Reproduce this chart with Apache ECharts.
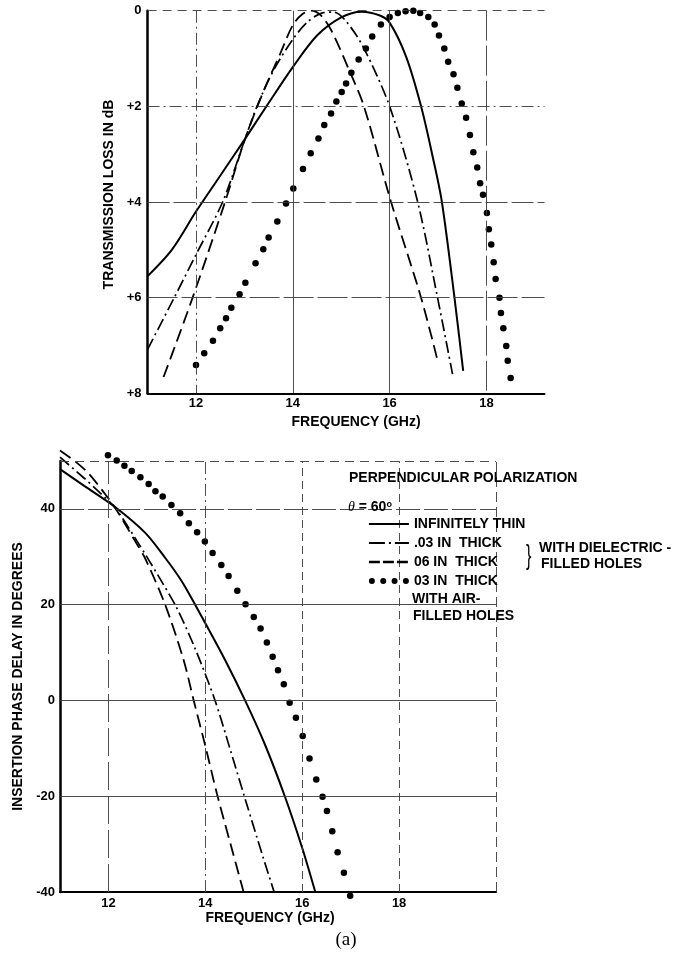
<!DOCTYPE html>
<html><head><meta charset="utf-8">
<script src="https://cdn.jsdelivr.net/npm/echarts@6/dist/echarts.min.js"></script>
<style>html,body{margin:0;padding:0;background:#fff}#chart{width:692px;height:959px}</style>
</head><body><div id="chart"></div>
<script>
// ---------- tick values ----------
const freqTicks = [12, 14, 16, 18];
const freqTicksBottom = [12, 14, 16, 18, 20];
const lossTicks = [0, 2, 4, 6, 8];
const phaseTicks = [-40, -20, 0, 20, 40];

// ---------- top chart: transmission loss (dB) vs frequency (GHz) ----------
const lossThin = [[11.0,5.55],[11.5,5.0],[12.0,4.2],[12.5,3.45],[13.0,2.7],[13.5,1.93],[14.0,1.18],[14.5,0.52],[15.0,0.14],[15.42,0.02],[15.8,0.1],[16.0,0.25],[16.34,0.96],[16.65,2.0],[16.9,3.1],[17.08,4.0],[17.34,6.0],[17.52,7.53]];
const lossDiel03 = [[11.0,7.08],[11.55,6.0],[12.0,5.1],[12.55,4.0],[13.0,2.72],[13.26,2.0],[13.6,1.25],[14.0,0.6],[14.3,0.24],[14.6,0.05],[14.85,0.03],[15.1,0.22],[15.45,0.75],[16.0,2.0],[16.58,4.0],[16.99,6.0],[17.3,7.6]];
const lossDiel06 = [[11.33,7.66],[11.93,6.0],[12.6,4.0],[13.0,2.72],[13.4,1.67],[13.74,0.9],[14.0,0.3],[14.2,0.07],[14.38,0.0],[14.58,0.1],[14.8,0.42],[15.18,1.28],[15.47,2.0],[16.03,4.0],[16.65,6.0],[17.0,7.35]];
const lossAir03 = [[12.0,7.41],[12.17,7.16],[12.35,6.9],[12.5,6.64],[12.62,6.43],[12.73,6.21],[12.9,5.93],[13.02,5.69],[13.23,5.28],[13.39,4.99],[13.5,4.74],[13.68,4.41],[13.86,4.03],[14.01,3.72],[14.21,3.31],[14.37,2.98],[14.53,2.67],[14.65,2.39],[14.79,2.15],[14.9,1.9],[15.01,1.7],[15.1,1.52],[15.21,1.3],[15.36,1.02],[15.51,0.79],[15.64,0.54],[15.82,0.29],[16.0,0.13],[16.17,0.05],[16.33,0.01],[16.49,0.0],[16.63,0.05],[16.8,0.13],[16.93,0.29],[17.02,0.52],[17.13,0.79],[17.21,1.07],[17.32,1.33],[17.4,1.61],[17.49,1.94],[17.58,2.24],[17.66,2.6],[17.73,2.96],[17.81,3.28],[17.87,3.61],[17.93,3.85],[18.01,4.23],[18.05,4.57],[18.1,4.89],[18.15,5.26],[18.19,5.61],[18.27,6.0],[18.3,6.32],[18.35,6.64],[18.41,7.01],[18.44,7.32],[18.5,7.68]];

// ---------- bottom chart: insertion phase delay (deg) vs frequency (GHz) ----------
const phaseThin = [[11.0,48.3],[11.5,44.8],[12.15,40.3],[12.76,35.0],[13.17,29.8],[13.5,25.1],[13.79,20.0],[14.0,16.1],[14.4,8.6],[14.82,0],[15.23,-9.2],[15.64,-20],[16.0,-30.8],[16.27,-40]];
const phaseDiel03 = [[11.0,50.8],[11.5,46.4],[11.8,43.6],[12.14,40.2],[12.62,32.8],[13.03,26.0],[13.4,19.5],[13.79,10.8],[14.2,0],[14.5,-9.8],[14.82,-20.5],[15.2,-33],[15.42,-40]];
const phaseDiel06 = [[11.0,52.2],[11.35,49.6],[11.6,47.3],[11.9,43.5],[12.14,40.2],[12.52,33.8],[12.76,29.6],[13.17,20.0],[13.55,8.5],[13.76,0],[14.0,-9.5],[14.24,-19.5],[14.52,-30],[14.79,-40]];
const phaseAir03 = [[11.99,51.2],[12.17,50.1],[12.33,49.0],[12.48,47.9],[12.66,46.6],[12.83,45.2],[12.97,43.7],[13.12,42.6],[13.3,40.8],[13.48,39.1],[13.66,37.0],[13.83,35.1],[13.99,33.2],[14.15,30.8],[14.33,28.3],[14.48,26.0],[14.66,22.9],[14.83,20.1],[15.0,17.4],[15.14,15.0],[15.27,12.1],[15.39,9.1],[15.5,6.3],[15.62,3.4],[15.74,-0.5],[15.87,-3.6],[16.01,-7.4],[16.15,-12.1],[16.29,-16.5],[16.42,-20.1],[16.51,-23.1],[16.62,-27.3],[16.73,-31.7],[16.86,-36.0],[16.99,-40.8]];

// ---------- names ----------
const nameThin = 'INFINITELY THIN';
const nameD03 = '.03 IN  THICK';
const nameD06 = '06 IN  THICK';
const nameA03 = '03 IN  THICK';

const FONT = '"Liberation Sans", Arial, sans-serif';
const ink = '#000';
const gridColor = '#3a3a3a';
const DASH = [13, 6];
const DASHDOT = [12, 4, 2, 4];

function gl(key, v, type) {
  const o = { lineStyle: { type: type, color: gridColor, width: 0.9 } };
  o[key] = v;
  return o;
}
function markLines(list) {
  return { silent: true, symbol: ['none', 'none'], label: { show: false }, animation: false, data: list };
}

const topGridLines = [
  gl('yAxis', lossTicks[0], [9, 6]), gl('yAxis', lossTicks[1], DASHDOT),
  gl('yAxis', lossTicks[2], [22, 4]), gl('yAxis', lossTicks[3], [30, 4]),
  gl('xAxis', freqTicks[0], DASHDOT), gl('xAxis', freqTicks[1], 'solid'),
  gl('xAxis', freqTicks[2], 'solid'), gl('xAxis', freqTicks[3], [30, 5])
];
const bottomGridLines = [
  gl('yAxis', 50, [9, 6]), gl('yAxis', phaseTicks[4], [24, 4]),
  gl('yAxis', phaseTicks[3], 'solid'), gl('yAxis', phaseTicks[2], 'solid'),
  gl('yAxis', phaseTicks[1], 'solid'),
  gl('xAxis', freqTicksBottom[0], [28, 6]), gl('xAxis', freqTicksBottom[1], DASHDOT),
  gl('xAxis', freqTicksBottom[2], [8, 5]), gl('xAxis', freqTicksBottom[3], [8, 5]),
  gl('xAxis', freqTicksBottom[4], [10, 5])
];

const labelStyle = { color: ink, fontFamily: FONT, fontWeight: 'bold', fontSize: 13 };
const nameStyle = { color: ink, fontFamily: FONT, fontWeight: 'bold', fontSize: 14 };

function lineSeries(name, data, xi, type, width, extra) {
  return Object.assign({
    name: name, type: 'line', xAxisIndex: xi, yAxisIndex: xi, data: data,
    symbol: 'none', showSymbol: false, smooth: 0.3,
    lineStyle: { color: ink, width: width, type: type }, itemStyle: { color: ink },
    clip: xi === 0, z: 3
  }, extra || {});
}
function dotSeries(name, data, xi) {
  return {
    name: name, type: 'scatter', xAxisIndex: xi, yAxisIndex: xi, data: data,
    symbol: 'circle', symbolSize: 6.5, itemStyle: { color: ink, opacity: 1 }, clip: false, z: 3
  };
}

const dotsIcon = 'path://M0,3a3,3 0 1,0 6,0a3,3 0 1,0 -6,0Z M11.33,3a3,3 0 1,0 6,0a3,3 0 1,0 -6,0Z M22.67,3a3,3 0 1,0 6,0a3,3 0 1,0 -6,0Z M34,3a3,3 0 1,0 6,0a3,3 0 1,0 -6,0Z';

const option = {
  animation: false,
  backgroundColor: '#fff',
  grid: [
    { left: 147.6, top: 10.7, width: 396.9, height: 382.6 },
    { left: 60, top: 461, width: 436, height: 431 }
  ],
  xAxis: [
    { gridIndex: 0, type: 'value', min: 11, max: 19.2, interval: 1,
      name: 'FREQUENCY (GHz)', nameLocation: 'middle', nameGap: 22,
      nameTextStyle: Object.assign({ padding: [0, 0, 0, 20] }, nameStyle),
      axisLine: { show: true, onZero: false, lineStyle: { color: ink, width: 2 } },
      axisTick: { show: false }, splitLine: { show: false },
      axisLabel: Object.assign({ margin: 4, formatter: v => freqTicks.indexOf(v) >= 0 ? String(v) : '' }, labelStyle) },
    { gridIndex: 1, type: 'value', min: 11, max: 20, interval: 1,
      name: 'FREQUENCY (GHz)', nameLocation: 'middle', nameGap: 19,
      nameTextStyle: Object.assign({ padding: [0, 16, 0, 0] }, nameStyle),
      axisLine: { show: true, onZero: false, lineStyle: { color: ink, width: 2 } },
      axisTick: { show: false }, splitLine: { show: false },
      axisLabel: Object.assign({ margin: 5, formatter: v => freqTicks.indexOf(v) >= 0 ? String(v) : '' }, labelStyle) }
  ],
  yAxis: [
    { gridIndex: 0, type: 'value', inverse: true, min: 0, max: 8, interval: 2,
      name: 'TRANSMISSION LOSS IN dB', nameLocation: 'middle', nameGap: 30, nameRotate: 90,
      nameTextStyle: Object.assign({ padding: [0, 0, 0, 15] }, nameStyle),
      axisLine: { show: true, onZero: false, lineStyle: { color: ink, width: 2.5 } },
      axisTick: { show: false }, splitLine: { show: false },
      axisLabel: Object.assign({ margin: 6, formatter: v => lossTicks.indexOf(v) < 0 ? '' : (v === 0 ? '0' : '+' + v) }, labelStyle) },
    { gridIndex: 1, type: 'value', min: -40, max: 50, interval: 20,
      name: 'INSERTION PHASE DELAY IN DEGREES', nameLocation: 'middle', nameGap: 35, nameRotate: 90,
      nameTextStyle: nameStyle,
      axisLine: { show: true, onZero: false, lineStyle: { color: ink, width: 2.5 } },
      axisTick: { show: false }, splitLine: { show: false },
      axisLabel: Object.assign({ margin: 5, formatter: v => phaseTicks.indexOf(v) < 0 ? '' : String(v) }, labelStyle) }
  ],
  legend: {
    left: 367.7, top: 517, orient: 'vertical', padding: 0,
    itemWidth: 40, itemHeight: 12, itemGap: 5, selectedMode: false, z: 10,
    textStyle: { color: ink, fontFamily: FONT, fontWeight: 'bold', fontSize: 14, lineHeight: 14 },
    data: [
      { name: nameThin, itemStyle: { opacity: 0 }, lineStyle: { color: ink, width: 2.2, type: 'solid' } },
      { name: nameD03, itemStyle: { opacity: 0 }, lineStyle: { color: ink, width: 2, type: [16, 4, 2, 4] } },
      { name: nameD06, itemStyle: { opacity: 0 }, lineStyle: { color: ink, width: 2.4, type: [11, 3] } },
      { name: nameA03, icon: dotsIcon, itemStyle: { color: ink, opacity: 1 } }
    ]
  },
  graphic: [
    { type: 'rect', z: 5, shape: { x: 344, y: 467, width: 360, height: 159 }, style: { fill: '#fff' } },
    { type: 'text', z: 11, x: 349, y: 478, style: { text: 'PERPENDICULAR POLARIZATION', fill: ink, font: 'bold 14px ' + FONT, verticalAlign: 'middle' } },
    { type: 'text', z: 11, x: 348, y: 507, style: {
        text: '{t|θ} = 60{s|o}', fill: ink, font: 'bold 14px ' + FONT, verticalAlign: 'middle',
        rich: { t: { fontStyle: 'italic', fontWeight: 'normal', fontFamily: '"Liberation Serif", serif', fontSize: 14 },
                s: { fontSize: 9, fontWeight: 'bold', fontFamily: FONT, verticalAlign: 'top' } } } },
    { type: 'text', z: 11, x: 526, y: 557, scaleX: 0.6, style: { text: '}', fill: ink, font: 'normal 27px ' + FONT, verticalAlign: 'middle' } },
    { type: 'text', z: 11, x: 539, y: 548, style: { text: 'WITH DIELECTRIC -', fill: ink, font: 'bold 14px ' + FONT, verticalAlign: 'middle' } },
    { type: 'text', z: 11, x: 541, y: 564, style: { text: 'FILLED HOLES', fill: ink, font: 'bold 14px ' + FONT, verticalAlign: 'middle' } },
    { type: 'text', z: 11, x: 412, y: 599, style: { text: 'WITH AIR-', fill: ink, font: 'bold 14px ' + FONT, verticalAlign: 'middle' } },
    { type: 'text', z: 11, x: 413, y: 616, style: { text: 'FILLED HOLES', fill: ink, font: 'bold 14px ' + FONT, verticalAlign: 'middle' } },
    { type: 'text', z: 11, x: 346, y: 940, style: { text: '(a)', fill: ink, font: 'normal 19px "Liberation Serif", serif', align: 'center', verticalAlign: 'middle' } }
  ],
  series: [
    lineSeries(nameThin, lossThin, 0, 'solid', 2, { markLine: markLines(topGridLines) }),
    lineSeries(nameD03, lossDiel03, 0, DASHDOT, 1.7),
    lineSeries(nameD06, lossDiel06, 0, DASH, 1.8),
    dotSeries(nameA03, lossAir03, 0),
    lineSeries(nameThin, phaseThin, 1, 'solid', 2, { markLine: markLines(bottomGridLines) }),
    lineSeries(nameD03, phaseDiel03, 1, DASHDOT, 1.7),
    lineSeries(nameD06, phaseDiel06, 1, DASH, 1.8),
    dotSeries(nameA03, phaseAir03, 1)
  ]
};

const chart = echarts.init(document.getElementById('chart'));
chart.setOption(option);
</script>
</body></html>
